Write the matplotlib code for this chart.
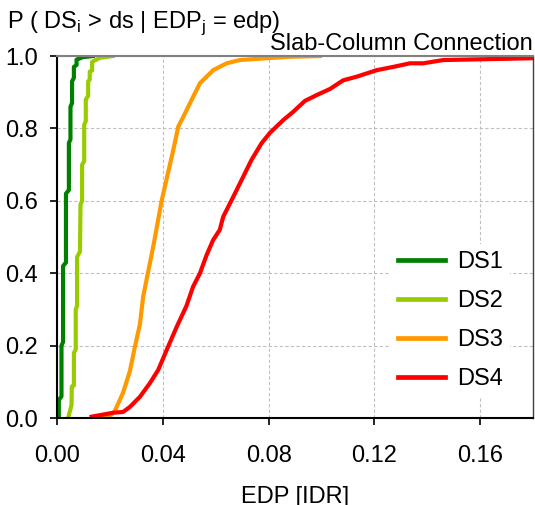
import matplotlib
matplotlib.use("Agg")
import matplotlib.pyplot as plt

plt.rcParams['font.family'] = ['Liberation Sans', 'DejaVu Sans']
plt.rcParams['mathtext.fontset'] = 'custom'
plt.rcParams['mathtext.rm'] = 'Liberation Sans'

# fragility curves (EDP = interstory drift ratio)
ds1_x = [0.0006, 0.0006, 0.0016, 0.0016, 0.0022, 0.0022, 0.0033, 0.0033, 0.0044, 0.0044,
         0.0050, 0.0050, 0.0056, 0.0056, 0.0063, 0.0063, 0.0073, 0.0073, 0.0097, 0.0135]
ds1_p = [0.00, 0.05, 0.06, 0.20, 0.21, 0.42, 0.43, 0.62, 0.63, 0.76,
         0.77, 0.86, 0.87, 0.93, 0.94, 0.97, 0.975, 0.99, 0.997, 1.0]

ds2_x = [0.0041, 0.0054, 0.0055, 0.0063, 0.0063, 0.0070, 0.0070, 0.0075, 0.0075, 0.0086,
         0.0088, 0.0094, 0.0094, 0.0102, 0.0102, 0.0108, 0.0108, 0.0117, 0.0117, 0.0123,
         0.0123, 0.0132, 0.0132, 0.0161, 0.0210]
ds2_p = [0.00, 0.036, 0.087, 0.09, 0.18, 0.19, 0.30, 0.31, 0.445, 0.46,
         0.59, 0.60, 0.70, 0.71, 0.81, 0.82, 0.88, 0.89, 0.93, 0.935,
         0.957, 0.96, 0.984, 0.995, 1.0]

ds3_x = [0.0176, 0.0206, 0.0218, 0.0249, 0.0275, 0.0294, 0.0313, 0.0325, 0.0344, 0.0363,
         0.0375, 0.0395, 0.0416, 0.0439, 0.0458, 0.0477, 0.0508, 0.0540, 0.0578, 0.0590,
         0.0641, 0.0691, 0.0792, 0.0880, 0.0994]
ds3_p = [0.00, 0.01, 0.02, 0.07, 0.13, 0.197, 0.26, 0.335, 0.404, 0.473,
         0.52, 0.60, 0.667, 0.74, 0.805, 0.832, 0.878, 0.925, 0.952, 0.961,
         0.98, 0.989, 0.994, 0.998, 1.0]

ds4_x = [0.0130, 0.0212, 0.0249, 0.0275, 0.0313, 0.0350, 0.0382, 0.0414, 0.0452, 0.0489,
         0.0514, 0.0540, 0.0565, 0.0590, 0.0615, 0.0628, 0.0666, 0.0704, 0.0735, 0.0773,
         0.0805, 0.0855, 0.0893, 0.0937, 0.0981, 0.1032, 0.1082, 0.1133, 0.1209, 0.1271,
         0.1335, 0.1385, 0.1461, 0.18]
ds4_p = [0.004, 0.015, 0.017, 0.031, 0.059, 0.096, 0.133, 0.188, 0.252, 0.31,
         0.363, 0.40, 0.45, 0.492, 0.52, 0.556, 0.611, 0.667, 0.713, 0.759,
         0.788, 0.823, 0.846, 0.876, 0.892, 0.909, 0.933, 0.943, 0.961, 0.970,
         0.98, 0.98, 0.989, 0.994]

labels = ["DS1", "DS2", "DS3", "DS4"]
colors = ["#008000", "#99CC00", "#FF9900", "#FF0000"]
xticks = [0.00, 0.04, 0.08, 0.12, 0.16]
yticks = [0.0, 0.2, 0.4, 0.6, 0.8, 1.0]

fig = plt.figure(figsize=(5.35, 5.05), dpi=100)
ax = fig.add_axes([0.107, 0.172, 0.889, 0.717])

curves = [(ds1_x, ds1_p), (ds2_x, ds2_p), (ds3_x, ds3_p), (ds4_x, ds4_p)]
for (x, p), lab, c in zip(curves, labels, colors):
    ax.plot(x, p, color=c, lw=3.0, label=lab, solid_joinstyle='round')

ax.set_xlim(0, 0.18)
ax.set_ylim(0, 1.0)
ax.set_xticks(xticks)
ax.set_yticks(yticks)
ax.set_xticklabels([f"{t:.2f}" for t in xticks])
ax.set_yticklabels([f"{t:.1f}" for t in yticks])
ax.tick_params(labelsize=17, length=5, width=1.2, direction='out')
ax.tick_params(axis='x', pad=14)
ax.tick_params(axis='y', pad=9)

ax.grid(True, color='#c0c0c0', ls=(0, (3, 2)), lw=0.8)
ax.set_axisbelow(True)

for side in ['left', 'bottom']:
    ax.spines[side].set_color('black')
    ax.spines[side].set_linewidth(1.5)
ax.spines['top'].set_color('#808080')
ax.spines['top'].set_linewidth(1.5)
ax.spines['right'].set_color('#404040')
ax.spines['right'].set_linewidth(1.0)

ax.set_xlabel("EDP [IDR]", fontsize=17, labelpad=14)
ax.set_title("Slab-Column Connection", loc='right', fontsize=17, pad=4)
fig.text(0.013, 0.945, r"P ( DS$_{\mathrm{i}}$ > ds | EDP$_{\mathrm{j}}$ = edp)",
         fontsize=17, ha='left', va='baseline')

leg = ax.legend(loc='center', bbox_to_anchor=(0.826, 0.27), fontsize=17,
                frameon=True, fancybox=False, framealpha=1, edgecolor='none',
                handlelength=2.0, handletextpad=0.5, labelspacing=0.72,
                borderpad=0.3)
for h in leg.get_lines():
    h.set_linewidth(3.4)

fig.savefig("out.png", dpi=100)
